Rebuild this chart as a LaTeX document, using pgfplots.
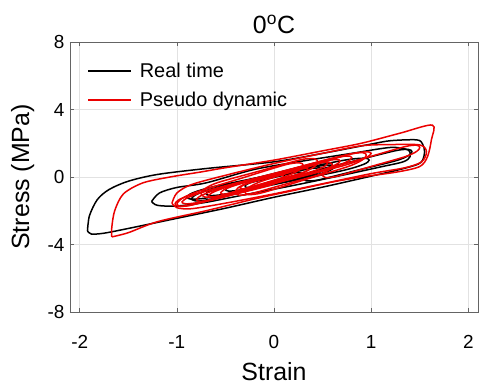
\documentclass[border=0pt]{standalone}
\usepackage{pgfplots}
\pgfplotsset{compat=1.18}
\usepackage{fontspec}
\setmainfont{Liberation Sans}
\definecolor{axgray}{RGB}{100,100,100}
\definecolor{gridgray}{RGB}{226,226,226}
\definecolor{pdred}{RGB}{235,0,0}
\begin{document}
\begin{tikzpicture}
\useasboundingbox (-70bp,-73bp) rectangle (411bp,312bp);
\begin{axis}[
  scale only axis, width=408bp, height=270bp,
  at={(0,0)}, anchor=south west,
  xmin=-2.1, xmax=2.1, ymin=-8, ymax=8,
  xtick={-2,-1,0,1,2}, ytick={-8,-4,0,4,8},
  /pgf/number format/assume math mode=true,
  tick label style={font=\fontsize{19}{22}\selectfont},
  xticklabel style={yshift=-20bp},
  yticklabel style={xshift=-2bp},
  tick align=inside, tick pos=both, major tick length=4bp,
  axis line style={axgray, line width=0.7bp},
  every tick/.style={axgray, line width=0.6bp},
  grid=major, major grid style={gridgray, line width=0.6bp},
  xlabel={Strain}, ylabel={Stress (MPa)},
  label style={font=\fontsize{25}{29}\selectfont},
  xlabel style={at={(axis description cs:0.5,-0.222)}, anchor=center},
  ylabel style={at={(axis description cs:-0.116,0.5)}, anchor=center},
  title={0\textsuperscript{o}C},
  title style={font=\fontsize{25}{29}\selectfont, at={(axis description cs:0.5,1.042)}, anchor=center},
  legend style={at={(axis description cs:0.042,0.93)}, anchor=north west, draw=none, fill=none,
    font=\fontsize{20}{24}\selectfont, row sep=9bp, inner sep=0pt},
  legend cell align=left,
  legend image code/.code={\draw[#1,sharp plot] (0bp,0bp) -- (43bp,0bp);},
  every axis plot/.append style={line width=1.5bp, smooth, tension=0.5},
]
% Real time (black)
\addplot[black] coordinates {(-1.92,-3.2) (-1.88,-3.38) (-1.75,-3.33) (-1.5,-3.05) (-1.0,-2.45) (-0.5,-1.85) (0,-1.2) (0.5,-0.6) (1.0,0.05) (1.3,0.45) (1.48,0.75) (1.53,1.0) (1.55,1.5) (1.53,1.95) (1.47,2.2) (1.2,2.15) (1.0,1.95) (0.5,1.4) (0,0.9) (-0.7,0.5) (-1.2,0.15) (-1.5,-0.25) (-1.7,-0.75) (-1.82,-1.35) (-1.9,-2.3) (-1.92,-3.2)};
\addlegendentry{\hspace{6bp}Real time}
\addplot[black, forget plot] coordinates {(-1.26,-1.45) (-1.2,-1.68) (-1.0,-1.72) (-0.7,-1.5) (-0.3,-1.05) (0.2,-0.5) (0.7,0.1) (1.1,0.6) (1.33,0.9) (1.4,1.2) (1.38,1.6) (1.2,1.75) (0.8,1.4) (0.3,0.95) (-0.2,0.45) (-0.7,-0.35) (-1.0,-0.62) (-1.18,-0.95) (-1.26,-1.45)};
\addplot[black, forget plot] coordinates {(-0.9,-1.2) (-0.844,-1.314) (-0.618,-1.17) (0.04,-0.40) (0.698,0.37) (0.924,0.754) (0.98,1.0) (0.924,1.114) (0.698,0.97) (0.04,0.20) (-0.618,-0.57) (-0.844,-0.954) (-0.9,-1.2)};
\addplot[black, forget plot] coordinates {(-0.85,-1.3) (-0.8065,-1.4185) (-0.6325,-1.2925) (-0.125,-0.575) (0.3825,0.1425) (0.5565,0.5085) (0.6,0.75) (0.5565,0.8685) (0.3825,0.7425) (-0.125,0.025) (-0.6325,-0.6925) (-0.8065,-1.0585) (-0.85,-1.3)};
\addplot[black, forget plot] coordinates {(-0.7,-1.0) (-0.66,-1.10) (-0.50,-1.01) (-0.04,-0.45) (0.42,0.105) (0.58,0.40) (0.62,0.6) (0.58,0.70) (0.42,0.605) (-0.04,0.05) (-0.50,-0.51) (-0.66,-0.80) (-0.7,-1.0)};
\addplot[black, forget plot] coordinates {(-0.5,-0.75) (-0.47,-0.834) (-0.35,-0.77) (0,-0.35) (0.35,0.07) (0.47,0.294) (0.5,0.45) (0.47,0.534) (0.35,0.47) (0,0.05) (-0.35,-0.37) (-0.47,-0.594) (-0.5,-0.75)};
\addplot[black, forget plot] coordinates {(-0.3,-0.55) (-0.282,-0.6175) (-0.21,-0.5875) (0,-0.325) (0.21,-0.0625) (0.282,0.0875) (0.3,0.2) (0.282,0.2675) (0.21,0.2375) (0,-0.025) (-0.21,-0.2875) (-0.282,-0.4375) (-0.3,-0.55)};
\addplot[black, forget plot] coordinates {(0.3,-0.1) (0.334,-0.232) (0.468,-0.16) (0.86,0.40) (1.252,0.96) (1.386,1.272) (1.42,1.5) (1.386,1.632) (1.252,1.56) (0.86,1.0) (0.468,0.44) (0.334,0.128) (0.3,-0.1)};
% Pseudo dynamic (red)
\addplot[pdred] coordinates {(-1.67,-3.55) (-1.5,-3.3) (-1.2,-2.65) (-0.7,-2.0) (-0.2,-1.3) (0.2,-0.8) (0.6,-0.3) (0.9,0.0) (1.27,0.3) (1.5,0.62) (1.58,1.2) (1.62,2.2) (1.63,3.08) (1.3,2.6) (0.9,2.0) (0.5,1.55) (0.0,1.0) (-0.5,0.55) (-0.75,0.3) (-1.07,0.0) (-1.35,-0.35) (-1.55,-1.0) (-1.64,-2.0) (-1.67,-3.0) (-1.67,-3.55)};
\addlegendentry{\hspace{6bp}Pseudo dynamic}
\addplot[pdred, forget plot] coordinates {(-1.05,-1.55) (-1.0,-1.82) (-0.85,-1.88) (-0.5,-1.55) (0,-1.0) (0.5,-0.4) (1.0,0.2) (1.35,0.55) (1.52,0.9) (1.57,1.5) (1.5,1.9) (1.2,1.92) (0.9,1.85) (0.5,1.4) (0,0.8) (-0.5,0.1) (-0.85,-0.45) (-1.0,-0.95) (-1.05,-1.55)};
\addplot[pdred, forget plot] coordinates {(-0.95,-1.5) (-0.89,-1.59) (-0.66,-1.365) (0.025,-0.35) (0.71,0.665) (0.94,1.13) (1.0,1.4) (0.94,1.49) (0.71,1.265) (0.025,0.25) (-0.66,-0.765) (-0.89,-1.23) (-0.95,-1.5)};
\addplot[pdred, forget plot] coordinates {(-1.0,-1.6) (-0.961,-1.741) (-0.805,-1.605) (-0.35,-0.8) (0.105,0.005) (0.261,0.421) (0.3,0.7) (0.261,0.841) (0.105,0.705) (-0.35,-0.1) (-0.805,-0.905) (-0.961,-1.321) (-1.0,-1.6)};
\addplot[pdred, forget plot] coordinates {(-1.02,-1.6) (-0.986,-1.731) (-0.852,-1.66) (-0.46,-1.1) (-0.068,-0.54) (0.066,-0.228) (0.1,0) (0.066,0.132) (-0.068,0.06) (-0.46,-0.5) (-0.852,-1.06) (-0.986,-1.371) (-1.02,-1.6)};
\addplot[pdred, forget plot] coordinates {(-0.8,-1.35) (-0.752,-1.443) (-0.56,-1.255) (0,-0.38) (0.56,0.495) (0.752,0.907) (0.8,1.15) (0.752,1.243) (0.56,1.055) (0,0.18) (-0.56,-0.695) (-0.752,-1.107) (-0.8,-1.35)};
\addplot[pdred, forget plot] coordinates {(-0.75,-1.0) (-0.714,-1.183) (-0.57,-1.115) (-0.15,-0.45) (0.27,0.215) (0.414,0.603) (0.45,0.9) (0.414,1.083) (0.27,1.015) (-0.15,0.35) (-0.57,-0.315) (-0.714,-0.703) (-0.75,-1.0)};
\addplot[pdred, forget plot] coordinates {(-0.68,-1.15) (-0.639,-1.237) (-0.476,-1.085) (0,-0.35) (0.476,0.385) (0.639,0.737) (0.68,0.95) (0.639,1.037) (0.476,0.885) (0,0.15) (-0.476,-0.585) (-0.639,-0.937) (-0.68,-1.15)};
\addplot[pdred, forget plot] coordinates {(-0.55,-0.95) (-0.517,-1.03) (-0.385,-0.9075) (0,-0.295) (0.385,0.3175) (0.517,0.6155) (0.55,0.8) (0.517,0.8795) (0.385,0.7575) (0,0.145) (-0.385,-0.4675) (-0.517,-0.765) (-0.55,-0.95)};
\addplot[pdred, forget plot] coordinates {(-0.4,-0.9) (-0.37,-1.062) (-0.25,-1.01) (0.1,-0.45) (0.45,0.11) (0.57,0.442) (0.6,0.7) (0.57,0.862) (0.45,0.81) (0.1,0.25) (-0.25,-0.31) (-0.37,-0.642) (-0.4,-0.9)};
\addplot[pdred, forget plot] coordinates {(-0.3,-0.9) (-0.2625,-1.044) (-0.1125,-0.92) (0.325,-0.15) (0.7625,0.62) (0.9125,1.024) (0.95,1.3) (0.9125,1.444) (0.7625,1.32) (0.325,0.55) (-0.1125,-0.22) (-0.2625,-0.624) (-0.3,-0.9)};
\addplot[pdred, forget plot] coordinates {(-0.35,-0.65) (-0.329,-0.707) (-0.245,-0.635) (0,-0.25) (0.245,0.135) (0.329,0.327) (0.35,0.45) (0.329,0.507) (0.245,0.435) (0,0.05) (-0.245,-0.335) (-0.329,-0.527) (-0.35,-0.65)};
\addplot[pdred, forget plot] coordinates {(0.5,0.1) (0.53,-0.03) (0.65,0.0475) (1.0,0.625) (1.35,1.2025) (1.47,1.5205) (1.5,1.75) (1.47,1.8805) (1.35,1.8025) (1.0,1.225) (0.65,0.6475) (0.53,0.33) (0.5,0.1)};
\end{axis}
\end{tikzpicture}
\end{document}
